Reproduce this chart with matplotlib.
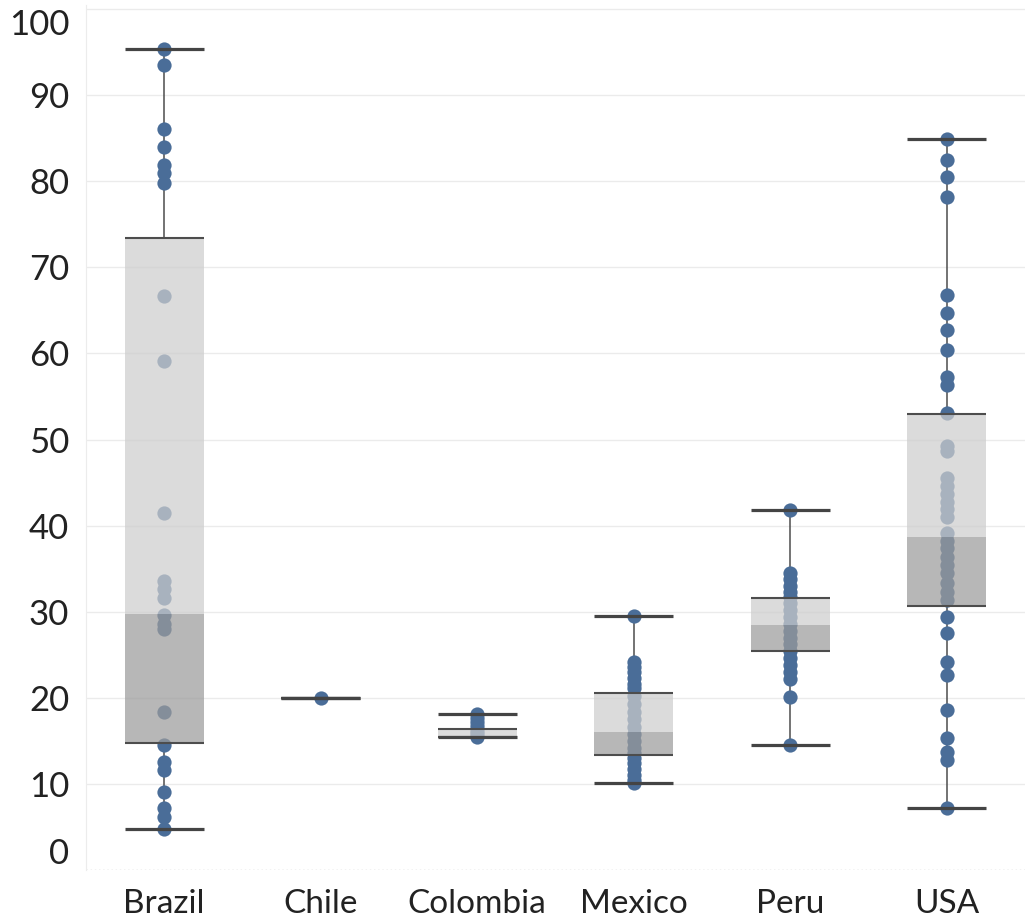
import matplotlib.pyplot as plt
import matplotlib.transforms as mtransforms
import numpy as np

# ------------ Data ------------
countries = ["Brazil", "Chile", "Colombia", "Mexico", "Peru", "USA"]

brazil = [95.4, 93.5, 86.1, 84.0, 81.9, 81.0, 79.8, 66.7, 59.1, 41.5, 33.6, 32.6,
          31.6, 29.6, 28.6, 28.0, 18.3, 14.5, 12.5, 11.6, 9.1, 7.2, 6.2, 4.8]
chile = [20.0]
colombia = [18.1, 17.7, 17.2, 16.7, 16.2, 15.8, 15.4]
mexico = [29.5, 24.2, 23.6, 23.0, 22.3, 21.6, 21.1, 20.2, 19.3, 18.4, 17.5, 16.6,
          15.8, 15.0, 14.2, 13.6, 13.0, 12.4, 11.7, 11.0, 10.4, 10.1]
peru = [41.8, 34.5, 33.8, 33.0, 32.3, 31.7, 31.0, 30.2, 29.4, 28.6, 27.8, 27.0,
        26.2, 25.4, 24.6, 23.8, 23.0, 22.2, 20.1, 14.5]
usa = [84.9, 82.5, 80.5, 78.2, 66.8, 64.7, 62.7, 60.4, 57.3, 56.3, 53.1, 49.3,
       48.7, 45.5, 44.6, 43.7, 42.8, 41.9, 41.0, 39.1, 38.2, 37.4, 36.4, 35.4,
       34.5, 33.3, 32.3, 31.4, 29.4, 27.5, 24.2, 22.6, 18.6, 15.3, 13.7, 12.8, 7.2]

# box stats per country: lower whisker, Q1, median, Q3, upper whisker
whisker_lo = [4.8, 20.0, 15.4, 10.1, 14.5, 7.2]
q1 = [14.7, 20.0, 15.4, 13.4, 25.4, 30.7]
median = [29.7, 20.0, 15.4, 16.0, 28.5, 38.7]
q3 = [73.4, 20.0, 16.4, 20.6, 31.6, 53.0]
whisker_hi = [95.4, 20.0, 18.1, 29.5, 41.8, 84.9]

y_ticks = [0, 10, 20, 30, 40, 50, 60, 70, 80, 90, 100]

# ------------ Figure ------------
plt.rcParams['font.family'] = ['Lato', 'DejaVu Sans']
fig = plt.figure(figsize=(10.25, 9.23), dpi=100)
ax = fig.add_axes([0.0837, 0.0574, 0.9163, 0.9375])

x = np.arange(len(countries))
bw = 0.505
dot_color = "#4a6d98"
line_color = "#4d4d4d"

# gridlines
for t in y_ticks[1:]:
    ax.axhline(t, color="#ebebeb", lw=1, zorder=0)
ax.axhline(0, color="#bdbdbd", lw=1, ls=(0, (1, 2)), zorder=0)

# whiskers
ax.vlines(x, whisker_lo, q1, color=line_color, lw=1.1, zorder=1)
ax.vlines(x, q3, whisker_hi, color=line_color, lw=1.1, zorder=1)

# points
for i, vals in enumerate([brazil, chile, colombia, mexico, peru, usa]):
    ax.scatter(np.full(len(vals), x[i]), vals, s=105, color=dot_color,
               linewidths=0, zorder=2)

# boxes (upper half light, lower half dark), drawn over points
ax.bar(x, np.subtract(q3, median), bottom=median, width=bw,
       color="#cdcdcd", alpha=0.72, zorder=3, linewidth=0)
ax.bar(x, np.subtract(median, q1), bottom=q1, width=bw,
       color="#9b9b9b", alpha=0.72, zorder=3, linewidth=0)

# box edges and whisker caps
ax.hlines(q1, x - bw / 2, x + bw / 2, color=line_color, lw=1.5, zorder=4)
ax.hlines(q3, x - bw / 2, x + bw / 2, color=line_color, lw=1.5, zorder=4)
ax.hlines(whisker_lo, x - bw / 2, x + bw / 2, color="#444444", lw=2.3, zorder=4)
ax.hlines(whisker_hi, x - bw / 2, x + bw / 2, color="#444444", lw=2.3, zorder=4)

# axes styling
ax.set_xlim(-0.5, len(countries) - 0.5)
ax.set_ylim(0, 100.5)
ax.set_xticks(x)
ax.set_xticklabels(countries, fontsize=24, color="#222222")
ax.set_yticks(y_ticks)
labels = ax.set_yticklabels([str(t) for t in y_ticks], fontsize=25, color="#222222")
labels[0].set_va("bottom")
labels[-1].set_va("top")
# nudge the top label down a little, like the reference
labels[-1].set_transform(labels[-1].get_transform() +
                         mtransforms.ScaledTranslation(0, -4 / 72, fig.dpi_scale_trans))
ax.tick_params(axis="both", length=0)
ax.tick_params(axis="y", pad=12)
ax.tick_params(axis="x", pad=14)
for s in ["top", "right", "bottom"]:
    ax.spines[s].set_visible(False)
ax.spines["left"].set_color("#ececec")

fig.savefig("out.png", dpi=100)
